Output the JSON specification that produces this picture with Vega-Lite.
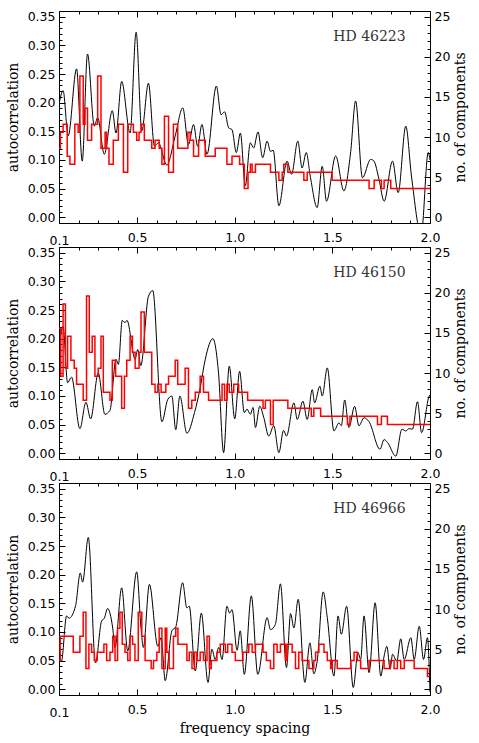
{
  "$schema": "https://vega.github.io/schema/vega-lite/v6.json",
  "padding": {"left": 5, "top": 10, "right": 5, "bottom": 5},
  "background": "white",
  "spacing": 24,
  "bounds": "flush",
  "config": {
    "view": {"stroke": "black", "strokeWidth": 1},
    "axis": {
      "grid": false, "domain": true, "domainColor": "black", "domainWidth": 1,
      "tickColor": "black", "tickWidth": 1, "labelColor": "black", "titleColor": "black",
      "labelFont": "DejaVu Sans", "labelFontSize": 12.5, "titleFont": "DejaVu Serif",
      "titleFontSize": 14, "titleFontWeight": "normal", "labelFlush": false, "labelOverlap": false
    }
  },
  "datasets": {
    "k1": [
      {"f":0.100,"ac":0.197},{"f":0.121,"ac":0.221},{"f":0.147,"ac":0.142},{"f":0.190,"ac":0.259},{"f":0.219,"ac":0.098},{"f":0.246,"ac":0.285},{"f":0.281,"ac":0.159},{"f":0.298,"ac":0.174},{"f":0.332,"ac":0.110},{"f":0.373,"ac":0.186},{"f":0.392,"ac":0.147},{"f":0.421,"ac":0.237},{"f":0.464,"ac":0.147},{"f":0.495,"ac":0.323},{"f":0.524,"ac":0.151},{"f":0.558,"ac":0.234},{"f":0.589,"ac":0.124},{"f":0.609,"ac":0.130},{"f":0.652,"ac":0.091},{"f":0.695,"ac":0.142},{"f":0.734,"ac":0.191},{"f":0.763,"ac":0.127},{"f":0.789,"ac":0.162},{"f":0.810,"ac":0.124},{"f":0.832,"ac":0.162},{"f":0.858,"ac":0.110},{"f":0.906,"ac":0.229},{"f":0.930,"ac":0.179},{"f":0.948,"ac":0.184},{"f":0.969,"ac":0.156},{"f":0.986,"ac":0.153},{"f":1.008,"ac":0.113},{"f":1.029,"ac":0.147},{"f":1.054,"ac":0.055},{"f":1.080,"ac":0.130},{"f":1.097,"ac":0.121},{"f":1.119,"ac":0.149},{"f":1.143,"ac":0.104},{"f":1.166,"ac":0.133},{"f":1.183,"ac":0.115},{"f":1.197,"ac":0.117},{"f":1.226,"ac":0.020},{"f":1.268,"ac":0.098},{"f":1.291,"ac":0.075},{"f":1.323,"ac":0.133},{"f":1.345,"ac":0.086},{"f":1.366,"ac":0.113},{"f":1.388,"ac":0.069},{"f":1.422,"ac":0.017},{"f":1.448,"ac":0.089},{"f":1.470,"ac":0.028},{"f":1.517,"ac":0.107},{"f":1.559,"ac":0.046},{"f":1.594,"ac":0.115},{"f":1.619,"ac":0.203},{"f":1.654,"ac":0.069},{"f":1.696,"ac":0.101},{"f":1.713,"ac":0.098},{"f":1.739,"ac":0.066},{"f":1.765,"ac":0.028},{"f":1.808,"ac":0.098},{"f":1.837,"ac":0.043},{"f":1.876,"ac":0.159},{"f":1.905,"ac":0.072},{"f":1.955,"ac":-0.030},{"f":1.991,"ac":0.113},{"f":2.000,"ac":0.100}
    ],
    "r1": [
      {"f":0.100,"n":8.6},{"f":0.107,"n":10.6},{"f":0.121,"n":11.6},{"f":0.142,"n":7.6},{"f":0.156,"n":6.6},{"f":0.181,"n":11.6},{"f":0.198,"n":10.6},{"f":0.207,"n":17.6},{"f":0.224,"n":11.6},{"f":0.233,"n":13.6},{"f":0.246,"n":9.6},{"f":0.267,"n":11.6},{"f":0.298,"n":17.6},{"f":0.315,"n":8.6},{"f":0.336,"n":10.6},{"f":0.344,"n":8.6},{"f":0.356,"n":6.6},{"f":0.378,"n":9.6},{"f":0.404,"n":11.6},{"f":0.430,"n":5.6},{"f":0.452,"n":11.6},{"f":0.481,"n":10.6},{"f":0.498,"n":9.6},{"f":0.510,"n":10.6},{"f":0.520,"n":11.6},{"f":0.537,"n":9.6},{"f":0.575,"n":8.6},{"f":0.592,"n":9.6},{"f":0.613,"n":8.6},{"f":0.627,"n":6.6},{"f":0.640,"n":12.6},{"f":0.661,"n":5.6},{"f":0.686,"n":11.6},{"f":0.708,"n":8.6},{"f":0.760,"n":10.6},{"f":0.772,"n":9.6},{"f":0.789,"n":7.6},{"f":0.815,"n":9.6},{"f":0.849,"n":7.6},{"f":0.900,"n":8.6},{"f":0.960,"n":6.6},{"f":0.986,"n":7.6},{"f":1.025,"n":6.6},{"f":1.049,"n":3.6},{"f":1.068,"n":5.6},{"f":1.080,"n":6.6},{"f":1.089,"n":5.6},{"f":1.106,"n":6.6},{"f":1.183,"n":5.6},{"f":1.226,"n":4.6},{"f":1.243,"n":5.6},{"f":1.251,"n":6.6},{"f":1.272,"n":5.6},{"f":1.354,"n":4.6},{"f":1.371,"n":5.6},{"f":1.499,"n":4.6},{"f":1.688,"n":3.6},{"f":1.714,"n":4.6},{"f":1.751,"n":3.6},{"f":1.765,"n":4.6},{"f":1.799,"n":3.6},{"f":2.000,"n":3.6}
    ],
    "k2": [
      {"f":0.100,"ac":0.187},{"f":0.121,"ac":0.221},{"f":0.144,"ac":0.123},{"f":0.164,"ac":0.133},{"f":0.207,"ac":0.043},{"f":0.238,"ac":0.089},{"f":0.262,"ac":0.060},{"f":0.301,"ac":0.140},{"f":0.335,"ac":0.068},{"f":0.361,"ac":0.075},{"f":0.392,"ac":0.164},{"f":0.404,"ac":0.155},{"f":0.424,"ac":0.232},{"f":0.438,"ac":0.228},{"f":0.448,"ac":0.232},{"f":0.490,"ac":0.164},{"f":0.503,"ac":0.181},{"f":0.519,"ac":0.153},{"f":0.558,"ac":0.274},{"f":0.580,"ac":0.284},{"f":0.627,"ac":0.055},{"f":0.657,"ac":0.094},{"f":0.678,"ac":0.100},{"f":0.698,"ac":0.041},{"f":0.719,"ac":0.100},{"f":0.755,"ac":0.035},{"f":0.794,"ac":0.071},{"f":0.823,"ac":0.114},{"f":0.849,"ac":0.164},{"f":0.888,"ac":0.200},{"f":0.917,"ac":0.140},{"f":0.943,"ac":0.001},{"f":0.972,"ac":0.152},{"f":1.000,"ac":0.060},{"f":1.025,"ac":0.143},{"f":1.049,"ac":0.071},{"f":1.063,"ac":0.077},{"f":1.080,"ac":0.068},{"f":1.094,"ac":0.080},{"f":1.106,"ac":0.045},{"f":1.128,"ac":0.082},{"f":1.149,"ac":0.062},{"f":1.174,"ac":0.030},{"f":1.200,"ac":0.048},{"f":1.226,"ac":0.001},{"f":1.250,"ac":0.040},{"f":1.265,"ac":0.030},{"f":1.303,"ac":0.088},{"f":1.320,"ac":0.059},{"f":1.349,"ac":0.091},{"f":1.371,"ac":0.059},{"f":1.397,"ac":0.111},{"f":1.409,"ac":0.088},{"f":1.436,"ac":0.117},{"f":1.448,"ac":0.100},{"f":1.474,"ac":0.149},{"f":1.508,"ac":0.039},{"f":1.534,"ac":0.053},{"f":1.546,"ac":0.048},{"f":1.563,"ac":0.093},{"f":1.585,"ac":0.045},{"f":1.614,"ac":0.082},{"f":1.636,"ac":0.048},{"f":1.662,"ac":0.062},{"f":1.688,"ac":0.055},{"f":1.744,"ac":0.007},{"f":1.765,"ac":0.024},{"f":1.782,"ac":0.019},{"f":1.825,"ac":-0.005},{"f":1.856,"ac":0.042},{"f":1.876,"ac":0.039},{"f":1.893,"ac":0.043},{"f":1.910,"ac":0.042},{"f":1.936,"ac":0.090},{"f":1.957,"ac":0.036},{"f":1.996,"ac":0.100},{"f":2.000,"ac":0.102}
    ],
    "r2": [
      {"f":0.100,"n":15.6},{"f":0.109,"n":9.6},{"f":0.121,"n":18.6},{"f":0.133,"n":10.6},{"f":0.144,"n":14.6},{"f":0.161,"n":11.6},{"f":0.178,"n":10.6},{"f":0.190,"n":8.6},{"f":0.224,"n":6.6},{"f":0.241,"n":19.6},{"f":0.255,"n":12.6},{"f":0.270,"n":14.6},{"f":0.284,"n":9.6},{"f":0.301,"n":10.6},{"f":0.315,"n":14.6},{"f":0.327,"n":7.6},{"f":0.361,"n":6.6},{"f":0.373,"n":11.6},{"f":0.390,"n":9.6},{"f":0.421,"n":5.6},{"f":0.435,"n":9.6},{"f":0.447,"n":11.6},{"f":0.464,"n":14.6},{"f":0.476,"n":12.6},{"f":0.490,"n":10.6},{"f":0.510,"n":12.6},{"f":0.520,"n":17.6},{"f":0.537,"n":12.6},{"f":0.575,"n":8.6},{"f":0.592,"n":7.6},{"f":0.606,"n":8.6},{"f":0.623,"n":7.6},{"f":0.647,"n":8.6},{"f":0.661,"n":9.6},{"f":0.695,"n":11.6},{"f":0.708,"n":8.6},{"f":0.746,"n":10.6},{"f":0.763,"n":5.6},{"f":0.780,"n":6.6},{"f":0.798,"n":7.6},{"f":0.823,"n":9.6},{"f":0.840,"n":7.6},{"f":0.866,"n":6.6},{"f":0.935,"n":8.6},{"f":0.948,"n":6.6},{"f":0.960,"n":8.6},{"f":0.972,"n":7.6},{"f":0.995,"n":8.6},{"f":1.020,"n":7.6},{"f":1.066,"n":6.6},{"f":1.145,"n":5.6},{"f":1.157,"n":6.6},{"f":1.183,"n":3.6},{"f":1.197,"n":6.6},{"f":1.272,"n":5.6},{"f":1.392,"n":4.6},{"f":1.405,"n":5.6},{"f":1.440,"n":4.6},{"f":1.577,"n":3.6},{"f":1.590,"n":4.6},{"f":1.731,"n":3.6},{"f":1.751,"n":4.6},{"f":1.782,"n":3.6},{"f":2.000,"n":3.6}
    ],
    "k3": [
      {"f":0.100,"ac":0.070},{"f":0.112,"ac":0.048},{"f":0.139,"ac":0.128},{"f":0.151,"ac":0.124},{"f":0.185,"ac":0.146},{"f":0.209,"ac":0.203},{"f":0.221,"ac":0.187},{"f":0.250,"ac":0.265},{"f":0.287,"ac":0.046},{"f":0.318,"ac":0.119},{"f":0.332,"ac":0.124},{"f":0.349,"ac":0.141},{"f":0.375,"ac":0.107},{"f":0.387,"ac":0.073},{"f":0.421,"ac":0.177},{"f":0.452,"ac":0.067},{"f":0.498,"ac":0.205},{"f":0.520,"ac":0.107},{"f":0.532,"ac":0.073},{"f":0.563,"ac":0.183},{"f":0.606,"ac":0.075},{"f":0.623,"ac":0.090},{"f":0.644,"ac":0.015},{"f":0.678,"ac":0.102},{"f":0.698,"ac":0.109},{"f":0.733,"ac":0.186},{"f":0.755,"ac":0.142},{"f":0.767,"ac":0.145},{"f":0.798,"ac":0.032},{"f":0.829,"ac":0.133},{"f":0.863,"ac":0.012},{"f":0.883,"ac":0.070},{"f":0.900,"ac":0.052},{"f":0.918,"ac":0.073},{"f":0.935,"ac":0.052},{"f":0.960,"ac":0.145},{"f":0.974,"ac":0.133},{"f":0.986,"ac":0.139},{"f":1.012,"ac":0.068},{"f":1.028,"ac":0.102},{"f":1.049,"ac":0.026},{"f":1.085,"ac":0.163},{"f":1.118,"ac":0.026},{"f":1.166,"ac":0.125},{"f":1.183,"ac":0.104},{"f":1.208,"ac":0.113},{"f":1.234,"ac":0.184},{"f":1.265,"ac":0.038},{"f":1.286,"ac":0.132},{"f":1.303,"ac":0.107},{"f":1.325,"ac":0.157},{"f":1.359,"ac":0.012},{"f":1.385,"ac":0.081},{"f":1.405,"ac":0.027},{"f":1.422,"ac":0.049},{"f":1.453,"ac":0.170},{"f":1.474,"ac":0.125},{"f":1.508,"ac":0.023},{"f":1.529,"ac":0.128},{"f":1.546,"ac":0.096},{"f":1.573,"ac":0.145},{"f":1.607,"ac":0.003},{"f":1.631,"ac":0.064},{"f":1.645,"ac":0.052},{"f":1.662,"ac":0.128},{"f":1.688,"ac":0.029},{"f":1.719,"ac":0.151},{"f":1.748,"ac":0.023},{"f":1.765,"ac":0.058},{"f":1.779,"ac":0.075},{"f":1.796,"ac":0.035},{"f":1.808,"ac":0.061},{"f":1.830,"ac":0.049},{"f":1.850,"ac":0.088},{"f":1.868,"ac":0.052},{"f":1.902,"ac":0.090},{"f":1.919,"ac":0.052},{"f":1.945,"ac":0.110},{"f":1.967,"ac":0.052},{"f":1.987,"ac":0.090},{"f":2.000,"ac":-0.005}
    ],
    "r3": [
      {"f":0.100,"n":3.6},{"f":0.106,"n":6.6},{"f":0.173,"n":4.6},{"f":0.207,"n":6.6},{"f":0.224,"n":9.6},{"f":0.238,"n":2.6},{"f":0.253,"n":5.6},{"f":0.267,"n":4.6},{"f":0.281,"n":3.6},{"f":0.296,"n":4.6},{"f":0.330,"n":5.6},{"f":0.344,"n":3.6},{"f":0.361,"n":4.6},{"f":0.375,"n":6.6},{"f":0.387,"n":3.6},{"f":0.400,"n":7.6},{"f":0.412,"n":9.6},{"f":0.424,"n":5.6},{"f":0.438,"n":4.6},{"f":0.452,"n":3.6},{"f":0.464,"n":6.6},{"f":0.477,"n":5.6},{"f":0.489,"n":3.6},{"f":0.506,"n":9.6},{"f":0.524,"n":6.6},{"f":0.541,"n":3.6},{"f":0.572,"n":2.6},{"f":0.584,"n":3.6},{"f":0.601,"n":4.6},{"f":0.613,"n":7.6},{"f":0.627,"n":2.6},{"f":0.644,"n":7.6},{"f":0.652,"n":4.6},{"f":0.664,"n":2.6},{"f":0.686,"n":6.6},{"f":0.698,"n":7.6},{"f":0.709,"n":5.6},{"f":0.755,"n":3.6},{"f":0.767,"n":4.6},{"f":0.781,"n":2.6},{"f":0.794,"n":4.6},{"f":0.806,"n":3.6},{"f":0.823,"n":4.6},{"f":0.840,"n":3.6},{"f":0.858,"n":6.6},{"f":0.870,"n":2.6},{"f":0.880,"n":3.6},{"f":0.909,"n":4.6},{"f":0.926,"n":5.6},{"f":0.952,"n":4.6},{"f":0.964,"n":5.6},{"f":0.986,"n":4.6},{"f":1.003,"n":3.6},{"f":1.042,"n":4.6},{"f":1.072,"n":5.6},{"f":1.089,"n":4.6},{"f":1.106,"n":5.6},{"f":1.145,"n":4.6},{"f":1.162,"n":3.6},{"f":1.183,"n":2.6},{"f":1.200,"n":5.6},{"f":1.217,"n":4.6},{"f":1.234,"n":5.6},{"f":1.260,"n":3.6},{"f":1.268,"n":5.6},{"f":1.294,"n":4.6},{"f":1.311,"n":2.6},{"f":1.328,"n":4.6},{"f":1.345,"n":3.6},{"f":1.380,"n":2.6},{"f":1.405,"n":3.6},{"f":1.414,"n":4.6},{"f":1.431,"n":5.6},{"f":1.457,"n":4.6},{"f":1.474,"n":3.6},{"f":1.491,"n":2.6},{"f":1.500,"n":3.6},{"f":1.525,"n":2.6},{"f":1.594,"n":3.6},{"f":1.611,"n":4.6},{"f":1.628,"n":3.6},{"f":1.645,"n":2.6},{"f":1.688,"n":3.6},{"f":1.765,"n":2.6},{"f":1.796,"n":3.6},{"f":1.816,"n":2.6},{"f":1.833,"n":3.6},{"f":1.850,"n":2.6},{"f":1.868,"n":3.6},{"f":1.919,"n":2.6},{"f":1.987,"n":1.6},{"f":2.000,"n":1.6}
    ]
  },
  "vconcat": [
    {
      "width": 371, "height": 212,
      "layer": [
        {"data": {"name": "k1"}, "mark": {"type": "line", "color": "black", "strokeWidth": 1, "interpolate": "monotone", "clip": true},
         "encoding": {
           "x": {"field": "f", "type": "quantitative", "scale": {"domain": [0.1, 2.0], "nice": false, "zero": false},
                 "axis": {"orient": "bottom", "title": null, "values": [0.1,0.2,0.3,0.4,0.5,0.6,0.7,0.8,0.9,1.0,1.1,1.2,1.3,1.4,1.5,1.6,1.7,1.8,1.9,2.0], "tickSize": {"condition": {"test": "abs(datum.value*2 - round(datum.value*2)) < 0.001", "value": -6}, "value": -3}, "labelExpr": "(abs(datum.value*2 - round(datum.value*2)) < 0.001 || datum.value < 0.15) ? format(datum.value, '.1f') : ''", "labelPadding": 14}},
           "y": {"field": "ac", "type": "quantitative", "scale": {"domain": [-0.01, 0.36], "nice": false, "zero": false},
                 "axis": {"orient": "left", "title": "autocorrelation", "titlePadding": 7, "values": [0,0.01,0.02,0.03,0.04,0.05,0.06,0.07,0.08,0.09,0.1,0.11,0.12,0.13,0.14,0.15,0.16,0.17,0.18,0.19,0.2,0.21,0.22,0.23,0.24,0.25,0.26,0.27,0.28,0.29,0.3,0.31,0.32,0.33,0.34,0.35], "tickSize": {"condition": {"test": "abs(datum.value*20 - round(datum.value*20)) < 0.001", "value": -6}, "value": -3}, "labelExpr": "abs(datum.value*20 - round(datum.value*20)) < 0.001 ? format(datum.value, '.2f') : ''", "labelPadding": 10}}
         }},
        {"data": {"name": "r1"}, "mark": {"type": "line", "color": "#ff0000", "strokeWidth": 1.5, "interpolate": "step-after", "clip": true},
         "encoding": {
           "x": {"field": "f", "type": "quantitative", "scale": {"domain": [0.1, 2.0], "nice": false, "zero": false},
                 "axis": {"orient": "top", "title": null, "labels": false, "values": [0.1,0.2,0.3,0.4,0.5,0.6,0.7,0.8,0.9,1.0,1.1,1.2,1.3,1.4,1.5,1.6,1.7,1.8,1.9,2.0], "tickSize": {"condition": {"test": "abs(datum.value*2 - round(datum.value*2)) < 0.001", "value": -6}, "value": -3}}},
           "y": {"field": "n", "type": "quantitative", "scale": {"domain": [-0.714, 25.714], "nice": false, "zero": false},
                 "axis": {"orient": "right", "title": "no. of components", "titleAngle": -90, "titleBaseline": "top", "titlePadding": 4, "values": [0,1,2,3,4,5,6,7,8,9,10,11,12,13,14,15,16,17,18,19,20,21,22,23,24,25], "tickSize": {"condition": {"test": "datum.value % 5 === 0", "value": -6}, "value": -3}, "labelExpr": "datum.value % 5 === 0 ? datum.label : ''", "labelPadding": 10}}
         }},
        {"data": {"values": [{"star": "HD 46223"}]}, "mark": {"type": "text", "font": "DejaVu Serif", "fontSize": 14, "color": "#333333", "align": "center", "baseline": "middle"},
         "encoding": {
           "x": {"datum": 1.69, "type": "quantitative", "scale": {"domain": [0.1, 2.0], "nice": false, "zero": false}, "axis": null},
           "y": {"datum": 0.314, "type": "quantitative", "scale": {"domain": [-0.01, 0.36], "nice": false, "zero": false}, "axis": null},
           "text": {"field": "star"}
         }}
      ],
      "resolve": {"scale": {"y": "independent"}, "axis": {"x": "independent", "y": "independent"}}
    },
    {
      "width": 371, "height": 212,
      "layer": [
        {"data": {"name": "k2"}, "mark": {"type": "line", "color": "black", "strokeWidth": 1, "interpolate": "monotone", "clip": true},
         "encoding": {
           "x": {"field": "f", "type": "quantitative", "scale": {"domain": [0.1, 2.0], "nice": false, "zero": false},
                 "axis": {"orient": "bottom", "title": null, "values": [0.1,0.2,0.3,0.4,0.5,0.6,0.7,0.8,0.9,1.0,1.1,1.2,1.3,1.4,1.5,1.6,1.7,1.8,1.9,2.0], "tickSize": {"condition": {"test": "abs(datum.value*2 - round(datum.value*2)) < 0.001", "value": -6}, "value": -3}, "labelExpr": "(abs(datum.value*2 - round(datum.value*2)) < 0.001 || datum.value < 0.15) ? format(datum.value, '.1f') : ''", "labelPadding": 14}},
           "y": {"field": "ac", "type": "quantitative", "scale": {"domain": [-0.01, 0.36], "nice": false, "zero": false},
                 "axis": {"orient": "left", "title": "autocorrelation", "titlePadding": 7, "values": [0,0.01,0.02,0.03,0.04,0.05,0.06,0.07,0.08,0.09,0.1,0.11,0.12,0.13,0.14,0.15,0.16,0.17,0.18,0.19,0.2,0.21,0.22,0.23,0.24,0.25,0.26,0.27,0.28,0.29,0.3,0.31,0.32,0.33,0.34,0.35], "tickSize": {"condition": {"test": "abs(datum.value*20 - round(datum.value*20)) < 0.001", "value": -6}, "value": -3}, "labelExpr": "abs(datum.value*20 - round(datum.value*20)) < 0.001 ? format(datum.value, '.2f') : ''", "labelPadding": 10}}
         }},
        {"data": {"name": "r2"}, "mark": {"type": "line", "color": "#ff0000", "strokeWidth": 1.5, "interpolate": "step-after", "clip": true},
         "encoding": {
           "x": {"field": "f", "type": "quantitative", "scale": {"domain": [0.1, 2.0], "nice": false, "zero": false},
                 "axis": {"orient": "top", "title": null, "labels": false, "values": [0.1,0.2,0.3,0.4,0.5,0.6,0.7,0.8,0.9,1.0,1.1,1.2,1.3,1.4,1.5,1.6,1.7,1.8,1.9,2.0], "tickSize": {"condition": {"test": "abs(datum.value*2 - round(datum.value*2)) < 0.001", "value": -6}, "value": -3}}},
           "y": {"field": "n", "type": "quantitative", "scale": {"domain": [-0.714, 25.714], "nice": false, "zero": false},
                 "axis": {"orient": "right", "title": "no. of components", "titleAngle": -90, "titleBaseline": "top", "titlePadding": 4, "values": [0,1,2,3,4,5,6,7,8,9,10,11,12,13,14,15,16,17,18,19,20,21,22,23,24,25], "tickSize": {"condition": {"test": "datum.value % 5 === 0", "value": -6}, "value": -3}, "labelExpr": "datum.value % 5 === 0 ? datum.label : ''", "labelPadding": 10}}
         }},
        {"data": {"values": [{"star": "HD 46150"}]}, "mark": {"type": "text", "font": "DejaVu Serif", "fontSize": 14, "color": "#333333", "align": "center", "baseline": "middle"},
         "encoding": {
           "x": {"datum": 1.69, "type": "quantitative", "scale": {"domain": [0.1, 2.0], "nice": false, "zero": false}, "axis": null},
           "y": {"datum": 0.314, "type": "quantitative", "scale": {"domain": [-0.01, 0.36], "nice": false, "zero": false}, "axis": null},
           "text": {"field": "star"}
         }}
      ],
      "resolve": {"scale": {"y": "independent"}, "axis": {"x": "independent", "y": "independent"}}
    },
    {
      "width": 371, "height": 212,
      "layer": [
        {"data": {"name": "k3"}, "mark": {"type": "line", "color": "black", "strokeWidth": 1, "interpolate": "monotone", "clip": true},
         "encoding": {
           "x": {"field": "f", "type": "quantitative", "scale": {"domain": [0.1, 2.0], "nice": false, "zero": false},
                 "axis": {"orient": "bottom", "title": "frequency spacing", "titlePadding": 3, "values": [0.1,0.2,0.3,0.4,0.5,0.6,0.7,0.8,0.9,1.0,1.1,1.2,1.3,1.4,1.5,1.6,1.7,1.8,1.9,2.0], "tickSize": {"condition": {"test": "abs(datum.value*2 - round(datum.value*2)) < 0.001", "value": -6}, "value": -3}, "labelExpr": "(abs(datum.value*2 - round(datum.value*2)) < 0.001 || datum.value < 0.15) ? format(datum.value, '.1f') : ''", "labelPadding": 14}},
           "y": {"field": "ac", "type": "quantitative", "scale": {"domain": [-0.01, 0.36], "nice": false, "zero": false},
                 "axis": {"orient": "left", "title": "autocorrelation", "titlePadding": 7, "values": [0,0.01,0.02,0.03,0.04,0.05,0.06,0.07,0.08,0.09,0.1,0.11,0.12,0.13,0.14,0.15,0.16,0.17,0.18,0.19,0.2,0.21,0.22,0.23,0.24,0.25,0.26,0.27,0.28,0.29,0.3,0.31,0.32,0.33,0.34,0.35], "tickSize": {"condition": {"test": "abs(datum.value*20 - round(datum.value*20)) < 0.001", "value": -6}, "value": -3}, "labelExpr": "abs(datum.value*20 - round(datum.value*20)) < 0.001 ? format(datum.value, '.2f') : ''", "labelPadding": 10}}
         }},
        {"data": {"name": "r3"}, "mark": {"type": "line", "color": "#ff0000", "strokeWidth": 1.5, "interpolate": "step-after", "clip": true},
         "encoding": {
           "x": {"field": "f", "type": "quantitative", "scale": {"domain": [0.1, 2.0], "nice": false, "zero": false},
                 "axis": {"orient": "top", "title": null, "labels": false, "values": [0.1,0.2,0.3,0.4,0.5,0.6,0.7,0.8,0.9,1.0,1.1,1.2,1.3,1.4,1.5,1.6,1.7,1.8,1.9,2.0], "tickSize": {"condition": {"test": "abs(datum.value*2 - round(datum.value*2)) < 0.001", "value": -6}, "value": -3}}},
           "y": {"field": "n", "type": "quantitative", "scale": {"domain": [-0.714, 25.714], "nice": false, "zero": false},
                 "axis": {"orient": "right", "title": "no. of components", "titleAngle": -90, "titleBaseline": "top", "titlePadding": 4, "values": [0,1,2,3,4,5,6,7,8,9,10,11,12,13,14,15,16,17,18,19,20,21,22,23,24,25], "tickSize": {"condition": {"test": "datum.value % 5 === 0", "value": -6}, "value": -3}, "labelExpr": "datum.value % 5 === 0 ? datum.label : ''", "labelPadding": 10}}
         }},
        {"data": {"values": [{"star": "HD 46966"}]}, "mark": {"type": "text", "font": "DejaVu Serif", "fontSize": 14, "color": "#333333", "align": "center", "baseline": "middle"},
         "encoding": {
           "x": {"datum": 1.69, "type": "quantitative", "scale": {"domain": [0.1, 2.0], "nice": false, "zero": false}, "axis": null},
           "y": {"datum": 0.314, "type": "quantitative", "scale": {"domain": [-0.01, 0.36], "nice": false, "zero": false}, "axis": null},
           "text": {"field": "star"}
         }}
      ],
      "resolve": {"scale": {"y": "independent"}, "axis": {"x": "independent", "y": "independent"}}
    }
  ]
}
